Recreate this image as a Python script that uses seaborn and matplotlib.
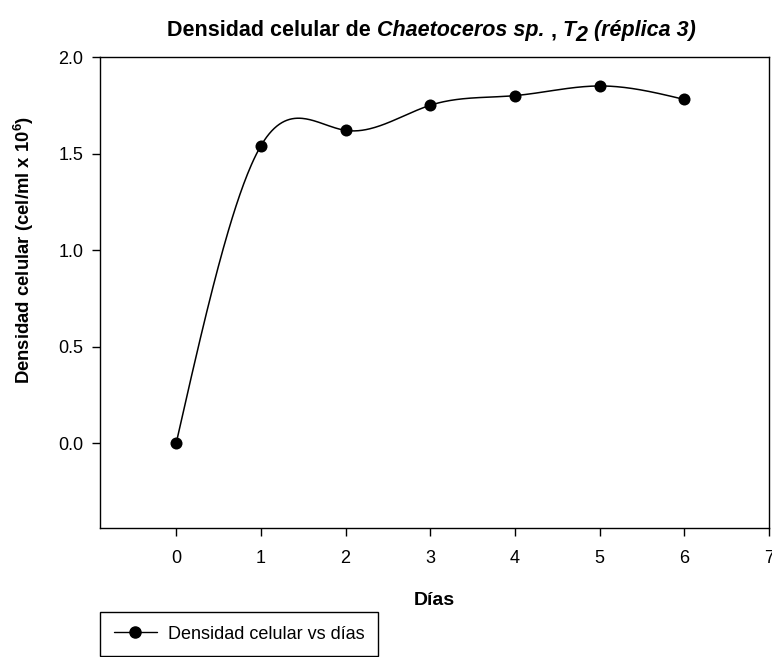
import numpy as np
import pandas as pd
import matplotlib
matplotlib.use("Agg")
import matplotlib.pyplot as plt
import seaborn as sns
from matplotlib.lines import Line2D

# ---- data ----
dias = [0, 1, 2, 3, 4, 5, 6]
densidad = [0.0, 1.54, 1.62, 1.75, 1.80, 1.85, 1.78]
xticks = [0, 1, 2, 3, 4, 5, 6, 7]
yticks = [0.0, 0.5, 1.0, 1.5, 2.0]
ytick_labels = ["0.0", "0.5", "1.0", "1.5", "2.0"]
legend_label = "Densidad celular vs días"
title_parts = [("Densidad celular de ", "normal", 0),
               ("Chaetoceros sp. ", "italic", 0),
               (", ", "normal", 0),
               ("T", "italic", 0),
               ("2", "italic", -5),
               (" (réplica 3)", "italic", 0)]


def natural_spline(x, y, num=400):
    x = np.asarray(x, float)
    y = np.asarray(y, float)
    n = len(x)
    h = np.diff(x)
    A = np.zeros((n, n))
    b = np.zeros(n)
    A[0, 0] = 1
    A[-1, -1] = 1
    for i in range(1, n - 1):
        A[i, i - 1] = h[i - 1]
        A[i, i] = 2 * (h[i - 1] + h[i])
        A[i, i + 1] = h[i]
        b[i] = 3 * ((y[i + 1] - y[i]) / h[i] - (y[i] - y[i - 1]) / h[i - 1])
    c = np.linalg.solve(A, b)
    bb = (y[1:] - y[:-1]) / h - h * (2 * c[:-1] + c[1:]) / 3
    d = (c[1:] - c[:-1]) / (3 * h)
    xs = np.linspace(x[0], x[-1], num)
    idx = np.clip(np.searchsorted(x, xs) - 1, 0, n - 2)
    dx = xs - x[idx]
    ys = y[idx] + bb[idx] * dx + c[idx] * dx ** 2 + d[idx] * dx ** 3
    return xs, ys


sns.set_style("white")
plt.rcParams["font.family"] = ["Liberation Sans", "DejaVu Sans"]
plt.rcParams["text.color"] = "black"
plt.rcParams["axes.labelcolor"] = "black"
plt.rcParams["xtick.color"] = "black"
plt.rcParams["ytick.color"] = "black"
plt.rcParams["mathtext.fontset"] = "custom"
plt.rcParams["mathtext.rm"] = "Liberation Sans:bold"
plt.rcParams["mathtext.bf"] = "Liberation Sans:bold"

W, H = 772, 657
fig = plt.figure(figsize=(W / 100, H / 100), dpi=100)
left, right, top, bottom = 100, 769, 57, 528
ax = fig.add_axes([left / W, 1 - bottom / H, (right - left) / W, (bottom - top) / H])

df = pd.DataFrame({"dias": dias, "densidad": densidad})
xs, ys = natural_spline(dias, densidad)
curve = pd.DataFrame({"x": xs, "y": ys})
sns.lineplot(data=curve, x="x", y="y", ax=ax, color="black", lw=1.1, sort=False)
sns.scatterplot(data=df, x="dias", y="densidad", ax=ax, color="black", s=75,
                edgecolor="black", linewidth=0, zorder=5)

ax.set_xlim(-0.9, 7.0)
ax.set_ylim(-0.44, 2.0)
ax.set_xticks(xticks)
ax.set_yticks(yticks)
ax.set_yticklabels(ytick_labels)
ax.tick_params(axis="both", direction="out", length=6, width=1, color="black",
               labelcolor="black", labelsize=13, pad=6, bottom=True, left=True)
ax.tick_params(axis="x", pad=10)
for s in ax.spines.values():
    s.set_visible(True)
    s.set_color("black")
    s.set_linewidth(1.0)

ax.set_xlabel("Días", fontsize=14, fontweight="bold", labelpad=18, color="black")
ax.set_ylabel(r"Densidad celular (cel/ml x 10$^{\mathbf{6}}$)", fontsize=13.3,
              fontweight="bold", color="black")
ax.yaxis.set_label_coords(-0.095, 0.59)

# title built from pieces (large subscript as in the reference)
fig.canvas.draw()
renderer = fig.canvas.get_renderer()
tsize = 15.5


def piece_width(s, style):
    t = fig.text(0, 0, s.replace(" ", "\u00a0"), fontsize=tsize, fontweight="bold",
                 fontstyle=style)
    w = t.get_window_extent(renderer).width
    t.remove()
    return w


widths = [piece_width(s, st) for s, st, _ in title_parts]
total = sum(widths)
cx = (left + right) / 2 - 3
x0 = cx - total / 2
base_y = 36
for (s, st, dy), w in zip(title_parts, widths):
    fig.text(x0 / W, 1 - (base_y - dy) / H, s.replace(" ", "\u00a0"),
             fontsize=tsize, fontweight="bold", fontstyle=st, ha="left",
             va="baseline", color="black")
    x0 += w

handle = Line2D([0], [0], color="black", lw=1.0, marker="o", markersize=8)
leg = fig.legend(handles=[handle], labels=[legend_label], loc="upper left",
                 bbox_to_anchor=(left / W, 1 - 612 / H), frameon=True,
                 fancybox=False, edgecolor="black", framealpha=1,
                 borderaxespad=0, borderpad=0.75, handlelength=2.4,
                 handletextpad=0.6, fontsize=13)
leg.get_frame().set_linewidth(1.0)
for t in leg.get_texts():
    t.set_color("black")

fig.savefig("out.png", dpi=100)
